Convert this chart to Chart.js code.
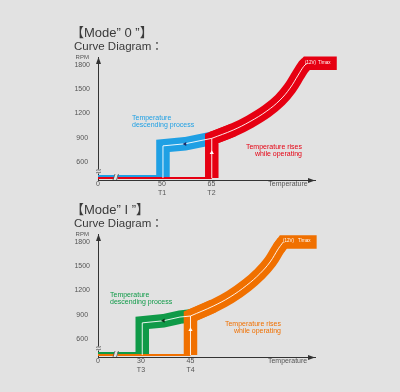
<!DOCTYPE html>
<html>
<head>
<meta charset="utf-8">
<script src="https://cdn.jsdelivr.net/npm/chart.js@4.4.1/dist/chart.umd.min.js"></script>
<style>
  html, body { margin: 0; padding: 0; background: #e2e2e2; }
  body { width: 400px; height: 392px; position: relative; overflow: hidden;
         font-family: "Liberation Sans", Arial, "Noto Sans CJK JP", sans-serif; color: #3a3a3a; }
  canvas { position: absolute; left: 0; }
  .title { position: absolute; white-space: nowrap; line-height: 1; z-index: 2; }
  .mode { font-size: 13px; }
  .sub { font-size: 11.5px; }
</style>
</head>
<body>
<canvas id="mode0" width="400" height="200" style="top:0"></canvas>
<canvas id="mode1" width="400" height="200" style="top:177px"></canvas>
<div class="title mode" style="left:71px;top:25.5px">【Mode” 0 ”】</div>
<div class="title sub" style="left:74px;top:41px">Curve Diagram：</div>
<div class="title mode" style="left:71px;top:202.5px">【Mode” I ”】</div>
<div class="title sub" style="left:74px;top:218px">Curve Diagram：</div>
<script>
const FONT = '"Liberation Sans", Arial, sans-serif';

// RPM axis (broken below 600)
const rpmTicks = [600, 900, 1200, 1500, 1800];
const idleRiseRpm = 402;
const idleFallRpm = 427;

// Mode "0"
const mode0TempTicks = [50, 65];
const mode0TempNames = ['T1', 'T2'];
const mode0RiseTemp = [65.1, 65.1, 71.6, 76.7, 81.8, 85.8, 88.8, 91.3, 92.9, 93.9, 103.0];
const mode0RiseRpm  = [402, 893, 996, 1101, 1231, 1367, 1512, 1676, 1779, 1821, 1821];
const mode0FallTemp = [50.3, 50.3, 57, 62.5, 65.1];
const mode0FallRpm  = [402, 800, 826, 872, 893];
const mode0MarkTemp = [57, 65.1];
const mode0MarkRpm  = [823, 715];

// Mode "I"
const mode1TempTicks = [30, 45];
const mode1TempNames = ['T3', 'T4'];
const mode1RiseTemp = [45, 45, 51.9, 57.0, 62.0, 66.0, 69.1, 71.6, 73.1, 83.2];
const mode1RiseRpm  = [402, 885, 1008, 1120, 1264, 1408, 1553, 1717, 1800, 1800];
const mode1FallTemp = [30.4, 30.4, 36.8, 41.8, 45];
const mode1FallRpm  = [402, 800, 826, 872, 885];
const mode1MarkTemp = [36.8, 45];
const mode1MarkRpm  = [827, 715];

function pts(xs, ys) {
    return xs.map((x, i) => ({ x: x, y: ys[i] }));
}

// axis arrows, break marks and the small texts
const decor = {
    id: 'decor',
    afterDatasetsDraw(chart, args, o) {
        const ctx = chart.ctx;
        const a = chart.chartArea;
        const lx = Math.round(a.left) + 0.5;
        const by = Math.round(a.bottom) + 0.5;
        ctx.save();
        ctx.fillStyle = '#333';
        ctx.beginPath();
        ctx.moveTo(lx, a.top);
        ctx.lineTo(lx - 2.5, a.top + 7);
        ctx.lineTo(lx + 2.5, a.top + 7);
        ctx.fill();
        ctx.beginPath();
        ctx.moveTo(a.right, by);
        ctx.lineTo(a.right - 7, by - 2.5);
        ctx.lineTo(a.right - 7, by + 2.5);
        ctx.fill();

        // y break
        ctx.fillStyle = '#e2e2e2';
        ctx.fillRect(lx - 3, by - 11, 6, 4);
        ctx.strokeStyle = '#555';
        ctx.lineWidth = 0.8;
        [by - 10.5, by - 8].forEach(y => {
            ctx.beginPath();
            ctx.moveTo(lx - 2.5, y + 0.5);
            ctx.bezierCurveTo(lx - 1, y - 1.2, lx + 1, y + 1.2, lx + 2.5, y - 0.5);
            ctx.stroke();
        });
        // x break
        ctx.fillStyle = '#e2e2e2';
        ctx.fillRect(a.left + 16, by - 7, 3.5, 6.5);
        [a.left + 15, a.left + 18.5].forEach(x => {
            ctx.beginPath();
            ctx.moveTo(x, by - 0.5);
            ctx.lineTo(x + 2, by - 6.5);
            ctx.stroke();
        });

        o.labels.forEach(l => {
            ctx.font = l.size + 'px ' + FONT;
            ctx.fillStyle = l.color;
            ctx.textAlign = l.align;
            ctx.textBaseline = 'middle';
            ctx.fillText(l.text, l.x, l.y);
        });
        ctx.restore();
    }
};

function buildChart(id, m) {
    const rise = pts(m.riseTemp, m.riseRpm);
    const fall = pts(m.fallTemp, m.fallRpm);
    // straight foot, smooth curve, straight flat top
    const riseStem = rise.slice(0, 3);
    const riseCurve = rise.slice(1, -1);
    const riseTop = rise.slice(-3);
    const riseIdle = [{ x: m.xMin, y: idleRiseRpm }, { x: m.riseTemp[0], y: idleRiseRpm }];
    const fallIdle = [{ x: m.xMin, y: idleFallRpm }, { x: m.fallTemp[0], y: idleFallRpm }];
    const xTickValues = [m.xMin].concat(m.tempTicks, [m.titleAt]);
    const xTickLabels = ['0'].concat(m.tempTicks.map((t, i) => [String(t), m.tempNames[i]]), ['Temperature']);
    const yTop = 1899;
    const white = 'rgba(255,255,255,0.9)';

    const line = { pointRadius: 0, tension: 0, fill: false, clip: false,
                   borderCapStyle: 'butt', borderJoinStyle: 'miter' };
    const curve = Object.assign({}, line, { tension: 0.4, capBezierPoints: false });

    return new Chart(document.getElementById(id), {
        type: 'line',
        data: {
            datasets: [
                { data: pts(m.markTemp, m.markRpm), showLine: false, clip: false,
                  pointStyle: 'triangle', pointRadius: 2.4, pointBorderWidth: 0,
                  pointRotation: [-90, 0], pointBackgroundColor: [m.markColor, '#ffffff'] },
                Object.assign({ data: riseStem.slice(0, 2), borderColor: white, borderWidth: 1 }, line),
                Object.assign({ data: riseCurve, borderColor: white, borderWidth: 1 }, curve),
                Object.assign({ data: fall, borderColor: white, borderWidth: 1 }, line),
                Object.assign({ data: riseIdle, borderColor: m.riseColor, borderWidth: 2 }, line),
                Object.assign({ data: riseStem, borderColor: m.riseColor, borderWidth: 13.5 }, line),
                Object.assign({ data: riseCurve, borderColor: m.riseColor, borderWidth: 13.5 }, curve),
                Object.assign({ data: riseTop, borderColor: m.riseColor, borderWidth: 13.5 }, line),
                Object.assign({ data: fall, borderColor: m.fallColor, borderWidth: 13.5 }, line),
                Object.assign({ data: fallIdle, borderColor: m.fallColor, borderWidth: 2 }, line)
            ]
        },
        options: {
            responsive: false,
            animation: false,
            layout: { padding: { left: 68, top: 57, right: 85, bottom: 0 } },
            plugins: {
                legend: { display: false },
                tooltip: { enabled: false },
                decor: { labels: m.labels }
            },
            scales: {
                x: {
                    type: 'linear',
                    min: m.xMin,
                    max: m.xMax,
                    grid: { display: false, drawTicks: false },
                    border: { display: true, color: '#333', width: 1 },
                    afterFit: s => { s.height = 20; },
                    afterBuildTicks: s => { s.ticks = xTickValues.map(v => ({ value: v })); },
                    ticks: {
                        autoSkip: false, maxRotation: 0, padding: 0, color: '#555',
                        font: { family: FONT, size: 7, lineHeight: 1.25 },
                        callback: (v, i) => xTickLabels[i]
                    }
                },
                y: {
                    type: 'linear',
                    min: 378,
                    max: yTop,
                    grid: { display: false, drawTicks: false },
                    border: { display: true, color: '#333', width: 1 },
                    afterFit: s => { s.width = 30; },
                    afterBuildTicks: s => { s.ticks = rpmTicks.concat([yTop]).map(v => ({ value: v })); },
                    ticks: {
                        autoSkip: false, crossAlign: 'center', padding: 8, color: '#555',
                        font: c => ({ family: FONT, size: c.tick && c.tick.value === yTop ? 6 : 7 }),
                        callback: v => v === yTop ? 'RPM' : v
                    }
                }
            }
        },
        plugins: [decor]
    });
}

buildChart('mode0', {
    xMin: 30.6, xMax: 96.4, titleAt: 88.2,
    tempTicks: mode0TempTicks, tempNames: mode0TempNames,
    riseTemp: mode0RiseTemp, riseRpm: mode0RiseRpm,
    fallTemp: mode0FallTemp, fallRpm: mode0FallRpm,
    markTemp: mode0MarkTemp, markRpm: mode0MarkRpm,
    riseColor: '#e60012', fallColor: '#1fa0e4', markColor: '#1a2a6a',
    labels: [
        { text: 'Temperature', x: 132, y: 118.5, align: 'left', color: '#1fa0e4', size: 7 },
        { text: 'descending process', x: 132, y: 125.5, align: 'left', color: '#1fa0e4', size: 7 },
        { text: 'Temperature rises', x: 302, y: 147.5, align: 'right', color: '#e60012', size: 7 },
        { text: 'while operating', x: 302, y: 154, align: 'right', color: '#e60012', size: 7 },
        { text: '(12V)', x: 305, y: 63, align: 'left', color: '#ffffff', size: 4.5 },
        { text: 'T/max', x: 318, y: 63, align: 'left', color: '#ffffff', size: 4.5 }
    ]
});

buildChart('mode1', {
    xMin: 17.0, xMax: 82.7, titleAt: 74.4,
    tempTicks: mode1TempTicks, tempNames: mode1TempNames,
    riseTemp: mode1RiseTemp, riseRpm: mode1RiseRpm,
    fallTemp: mode1FallTemp, fallRpm: mode1FallRpm,
    markTemp: mode1MarkTemp, markRpm: mode1MarkRpm,
    riseColor: '#f07000', fallColor: '#0f9a48', markColor: '#10301a',
    labels: [
        { text: 'Temperature', x: 110, y: 118.5, align: 'left', color: '#0f9a48', size: 7 },
        { text: 'descending process', x: 110, y: 125.5, align: 'left', color: '#0f9a48', size: 7 },
        { text: 'Temperature rises', x: 281, y: 147.5, align: 'right', color: '#f07000', size: 7 },
        { text: 'while operating', x: 281, y: 154, align: 'right', color: '#f07000', size: 7 },
        { text: '(12V)', x: 283, y: 64, align: 'left', color: '#ffffff', size: 4.5 },
        { text: 'T/max', x: 298, y: 64, align: 'left', color: '#ffffff', size: 4.5 }
    ]
});
</script>
</body>
</html>
